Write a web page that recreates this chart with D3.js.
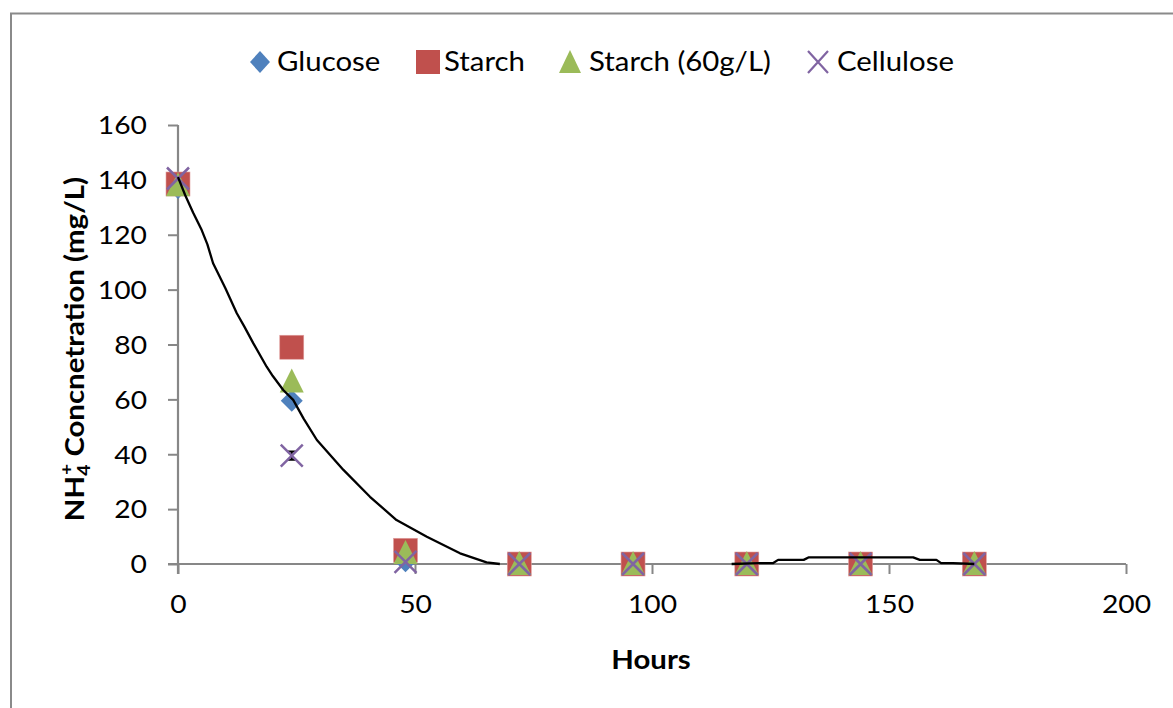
<!DOCTYPE html>
<html>
<head>
<meta charset="utf-8">
<script src="https://cdn.jsdelivr.net/npm/d3@7"></script>
<style>
  html, body { margin: 0; padding: 0; background: #fff; }
  svg { display: block; }
  text { font-family: Lato, "Open Sans", sans-serif; fill: #000; }
</style>
</head>
<body>
<svg id="chart" width="1173" height="708"></svg>
<script>
// ---- data ----
const hours = [0, 24, 48, 72, 96, 120, 144, 168];
const glucose = [137, 59.5, 1, 0, 0, 0, 0, 0];
const starch = [138.5, 79, 5, 0, 0, 0, 0, 0];
const starch60 = [138, 66.5, 4, 0, 0, 0, 0, 0];
const cellulose = [140.5, 39.5, 0.8, 0, 0, 0, 0, 0];
const celluloseErr = [0, 1.5, 0, 0, 0, 0, 0, 0];

// hand-drawn black trend line (two pieces)
const trend1X = [0, 1.5, 3.2, 5, 6.2, 7.4, 10, 12.4, 14, 15.9, 18.7, 20, 22.2, 24.3, 26.5, 29.3, 34.9, 40.5, 46.1, 52.5, 59.5, 65.1, 67.9];
const trend1Y = [141, 134.5, 128, 121.7, 116.5, 109.6, 100.5, 91.4, 86.5, 80.4, 71.9, 68.5, 63.4, 59.8, 53, 45.2, 34.3, 24.5, 16.0, 9.9, 3.9, 0.6, 0];
const trend2X = [116.8, 122.8, 125.5, 126.6, 132, 133, 155.1, 156.5, 160, 161, 163.5, 168];
const trend2Y = [0, 0.3, 0.3, 1.5, 1.5, 2.4, 2.4, 1.5, 1.5, 0.3, 0.3, 0];

const xTicks = [0, 50, 100, 150, 200];
const yTicks = [0, 20, 40, 60, 80, 100, 120, 140, 160];
const seriesNames = ["Glucose", "Starch", "Starch (60g/L)", "Cellulose"];
const seriesColors = ["#4F81BD", "#C0504D", "#9BBB59", "#8064A2"];
const seriesShapes = ["diamond", "square", "triangle", "cross"];

// ---- layout ----
const svg = d3.select("#chart");
const pL = 178, pR = 1126, pT = 125, pB = 564;
const x = d3.scaleLinear().domain([0, 200]).range([pL, pR]);
const y = d3.scaleLinear().domain([0, 160]).range([pB, pT]);
const axisColor = "#878787";
const SX = 1.13; // horizontal stretch of the reference's text

function stretch(sel) {
  sel.each(function () {
    const t = d3.select(this);
    const tx = +t.attr("x") || 0, ty = +t.attr("y") || 0;
    t.attr("x", 0).attr("y", 0).attr("transform", `translate(${tx},${ty}) scale(${SX},1)`);
  });
}

// outer frame
svg.append("rect").attr("x", 11).attr("y", 13.5).attr("width", 1200).attr("height", 720)
  .attr("fill", "none").attr("stroke", "#8a8a8a").attr("stroke-width", 2);

// axes
const yAxis = svg.append("g").attr("transform", `translate(${pL},0)`)
  .call(d3.axisLeft(y).tickValues(yTicks).tickSize(10).tickPadding(21).tickFormat(d3.format("d")));
const xAxis = svg.append("g").attr("transform", `translate(0,${pB})`)
  .call(d3.axisBottom(x).tickValues(xTicks).tickSize(10).tickPadding(21).tickFormat(d3.format("d")));
[xAxis, yAxis].forEach(g => {
  g.select(".domain").attr("stroke", axisColor).attr("stroke-width", 2.2);
  g.selectAll(".tick line").attr("stroke", axisColor).attr("stroke-width", 2);
  g.selectAll(".tick text").attr("font-size", 25).attr("font-family", "Lato, sans-serif").attr("fill", "#000");
});
// y tick labels: convert to explicit x/y then stretch
yAxis.selectAll(".tick text").each(function () {
  const t = d3.select(this);
  const tx = +t.attr("x");
  t.attr("dy", "0.35em").attr("transform", `translate(${tx},0) scale(${SX},1)`).attr("x", 0);
});
xAxis.selectAll(".tick text").each(function () {
  const t = d3.select(this);
  const ty = +t.attr("y");
  t.attr("transform", `translate(0,${ty}) scale(${SX},1)`).attr("y", 0);
});
yAxis.select(".domain").attr("d", `M0,${pT}V${pB + 10}`);
xAxis.select(".domain").attr("d", `M${pL - 10},0H${pR}`);

// axis titles
svg.append("text").attr("x", (pL + pR) / 2 - 1).attr("y", 669).attr("text-anchor", "middle")
  .attr("font-size", 26).attr("font-weight", "bold").text("Hours").call(stretch);
const yt = svg.append("text").attr("transform", `translate(84,349) rotate(-90) scale(${SX},1)`)
  .attr("text-anchor", "middle").attr("font-size", 26).attr("font-weight", "bold");
yt.append("tspan").text("NH");
yt.append("tspan").attr("font-size", 17).attr("dy", 6).text("4");
yt.append("tspan").attr("font-size", 17).attr("dy", -18).attr("dx", -9).text("+");
yt.append("tspan").attr("dy", 12).text(" Concnetration (mg/L)");

// marker drawing
function marker(g, shape, color, cx, cy) {
  if (shape === "diamond") {
    g.append("path").attr("d", `M${cx},${cy - 11}L${cx + 11},${cy}L${cx},${cy + 11}L${cx - 11},${cy}Z`).attr("fill", color);
  } else if (shape === "square") {
    g.append("rect").attr("x", cx - 12).attr("y", cy - 12).attr("width", 24).attr("height", 24).attr("fill", color)
      .attr("stroke", "#e0a0a0").attr("stroke-width", 0.6);
  } else if (shape === "triangle") {
    g.append("path").attr("d", `M${cx},${cy - 13}L${cx + 12},${cy + 11}L${cx - 12},${cy + 11}Z`).attr("fill", color);
  } else if (shape === "cross") {
    g.append("path").attr("d", `M${cx - 11},${cy - 11}L${cx + 11},${cy + 11}M${cx + 11},${cy - 11}L${cx - 11},${cy + 11}`)
      .attr("stroke", color).attr("stroke-width", 2.5).attr("fill", "none");
  }
}

const allSeries = [glucose, starch, starch60, cellulose];
const plot = svg.append("g");
allSeries.forEach((vals, i) => {
  const g = plot.append("g");
  if (i === 3) {
    hours.forEach((h, j) => {
      const e = celluloseErr[j];
      if (e > 0) {
        const cx = x(h), y1 = y(vals[j] + e), y2 = y(vals[j] - e);
        g.append("path").attr("d", `M${cx},${y1}V${y2}M${cx - 4},${y1}H${cx + 4}M${cx - 4},${y2}H${cx + 4}`)
          .attr("stroke", "#000").attr("stroke-width", 2).attr("fill", "none");
      }
    });
  }
  hours.forEach((h, j) => marker(g, seriesShapes[i], seriesColors[i], x(h), y(vals[j])));
});

// trend lines
const line = d3.line().x(d => x(d[0])).y(d => y(d[1]));
[[trend1X, trend1Y], [trend2X, trend2Y]].forEach(([xs, ys]) => {
  svg.append("path").datum(xs.map((v, k) => [v, ys[k]]))
    .attr("d", line).attr("fill", "none").attr("stroke", "#000").attr("stroke-width", 2.3)
    .attr("stroke-linejoin", "round");
});

// legend
const legendPos = [{m: 260, t: 277}, {m: 428, t: 444}, {m: 570, t: 589}, {m: 818, t: 837}];
const lg = svg.append("g");
seriesNames.forEach((n, i) => {
  const cy = 62;
  const mx = legendPos[i].m;
  if (seriesShapes[i] === "diamond") {
    lg.append("path").attr("d", `M${mx},${cy - 11}L${mx + 10},${cy}L${mx},${cy + 11}L${mx - 10},${cy}Z`).attr("fill", seriesColors[i]);
  } else if (seriesShapes[i] === "square") {
    lg.append("rect").attr("x", mx - 12).attr("y", cy - 12).attr("width", 24).attr("height", 24).attr("fill", seriesColors[i]);
  } else if (seriesShapes[i] === "triangle") {
    lg.append("path").attr("d", `M${mx},${cy - 12}L${mx + 11},${cy + 11}L${mx - 11},${cy + 11}Z`).attr("fill", seriesColors[i]);
  } else {
    lg.append("path").attr("d", `M${mx - 10},${cy - 11}L${mx + 10},${cy + 11}M${mx + 10},${cy - 11}L${mx - 10},${cy + 11}`)
      .attr("stroke", seriesColors[i]).attr("stroke-width", 2.2);
  }
  lg.append("text").attr("x", legendPos[i].t).attr("y", cy + 9).attr("font-size", 26).text(n).call(stretch);
});
</script>
</body>
</html>
